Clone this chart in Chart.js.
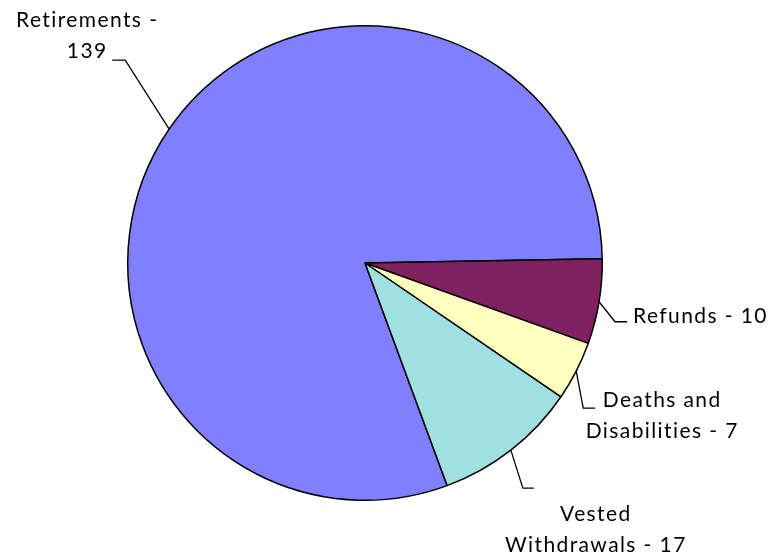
<!DOCTYPE html>
<html>
<head>
<meta charset="utf-8">
<script src="https://cdn.jsdelivr.net/npm/chart.js@4/dist/chart.umd.min.js"></script>
<style>
  html, body { margin: 0; padding: 0; background: #fff; }
  #wrap { width: 772px; height: 560px; position: relative; }
</style>
</head>
<body>
<div id="wrap"><canvas id="pieChart" width="772" height="560"></canvas></div>
<script>
const categories = ["Retirements", "Refunds", "Deaths and Disabilities", "Vested Withdrawals"];
const counts = [139, 10, 7, 17];
const sliceColors = ["#8080FF", "#802060", "#FFFFC0", "#A0E0E0"];

// label text lines per slice, and how each leader line bends away from the slice
const labelLines = [
  ["Retirements -", "139"],
  ["Refunds - 10"],
  ["Deaths and", "Disabilities - 7"],
  ["Vested", "Withdrawals - 17"]
];
const leaders = [
  { elbow: [-44, -69], end: [-57, -69], text: [-82, -109], align: "center" },
  { elbow: [16, 20], end: [28, 20], text: [34, 14], align: "left" },
  { elbow: [7, 37], end: [19, 37], text: [86, 29], align: "center" },
  { elbow: [12, 38], end: [23, 38], text: [85, 64], align: "center" }
];

const FONT = "21px Lato, 'Open Sans', sans-serif";
const LINE_H = 31;

const leaderLabels = {
  id: "leaderLabels",
  afterDatasetsDraw(chart) {
    const ctx = chart.ctx;
    const arcs = chart.getDatasetMeta(0).data;
    ctx.save();
    ctx.strokeStyle = "#000";
    ctx.lineWidth = 1.3;
    ctx.fillStyle = "#000";
    ctx.font = FONT;
    ctx.letterSpacing = "1.4px";
    ctx.textBaseline = "middle";
    arcs.forEach((arc, i) => {
      const mid = (arc.startAngle + arc.endAngle) / 2;
      const ax = arc.x + Math.cos(mid) * arc.outerRadius;
      const ay = arc.y + Math.sin(mid) * arc.outerRadius;
      const l = leaders[i];
      ctx.beginPath();
      ctx.moveTo(ax, ay);
      ctx.lineTo(ax + l.elbow[0], ay + l.elbow[1]);
      ctx.lineTo(ax + l.end[0], ay + l.end[1]);
      ctx.stroke();
      ctx.textAlign = l.align;
      labelLines[i].forEach((line, k) => {
        ctx.fillText(line, ax + l.text[0], ay + l.text[1] + k * LINE_H);
      });
    });
    ctx.restore();
  }
};

const total = counts.reduce((a, b) => a + b, 0);
// Refunds begins just above 3 o'clock; rotate so the first slice ends there
const rotation = 89 - (counts[0] / total) * 360;

new Chart(document.getElementById("pieChart"), {
  type: "pie",
  data: {
    labels: categories,
    datasets: [{
      data: counts,
      backgroundColor: sliceColors,
      borderColor: "#000",
      borderWidth: 1.5
    }]
  },
  options: {
    responsive: false,
    animation: false,
    rotation: rotation,
    layout: { padding: { left: 127, right: 169, top: 25, bottom: 59 } },
    plugins: {
      legend: { display: false },
      tooltip: { enabled: false }
    }
  },
  plugins: [leaderLabels]
});
</script>
</body>
</html>
